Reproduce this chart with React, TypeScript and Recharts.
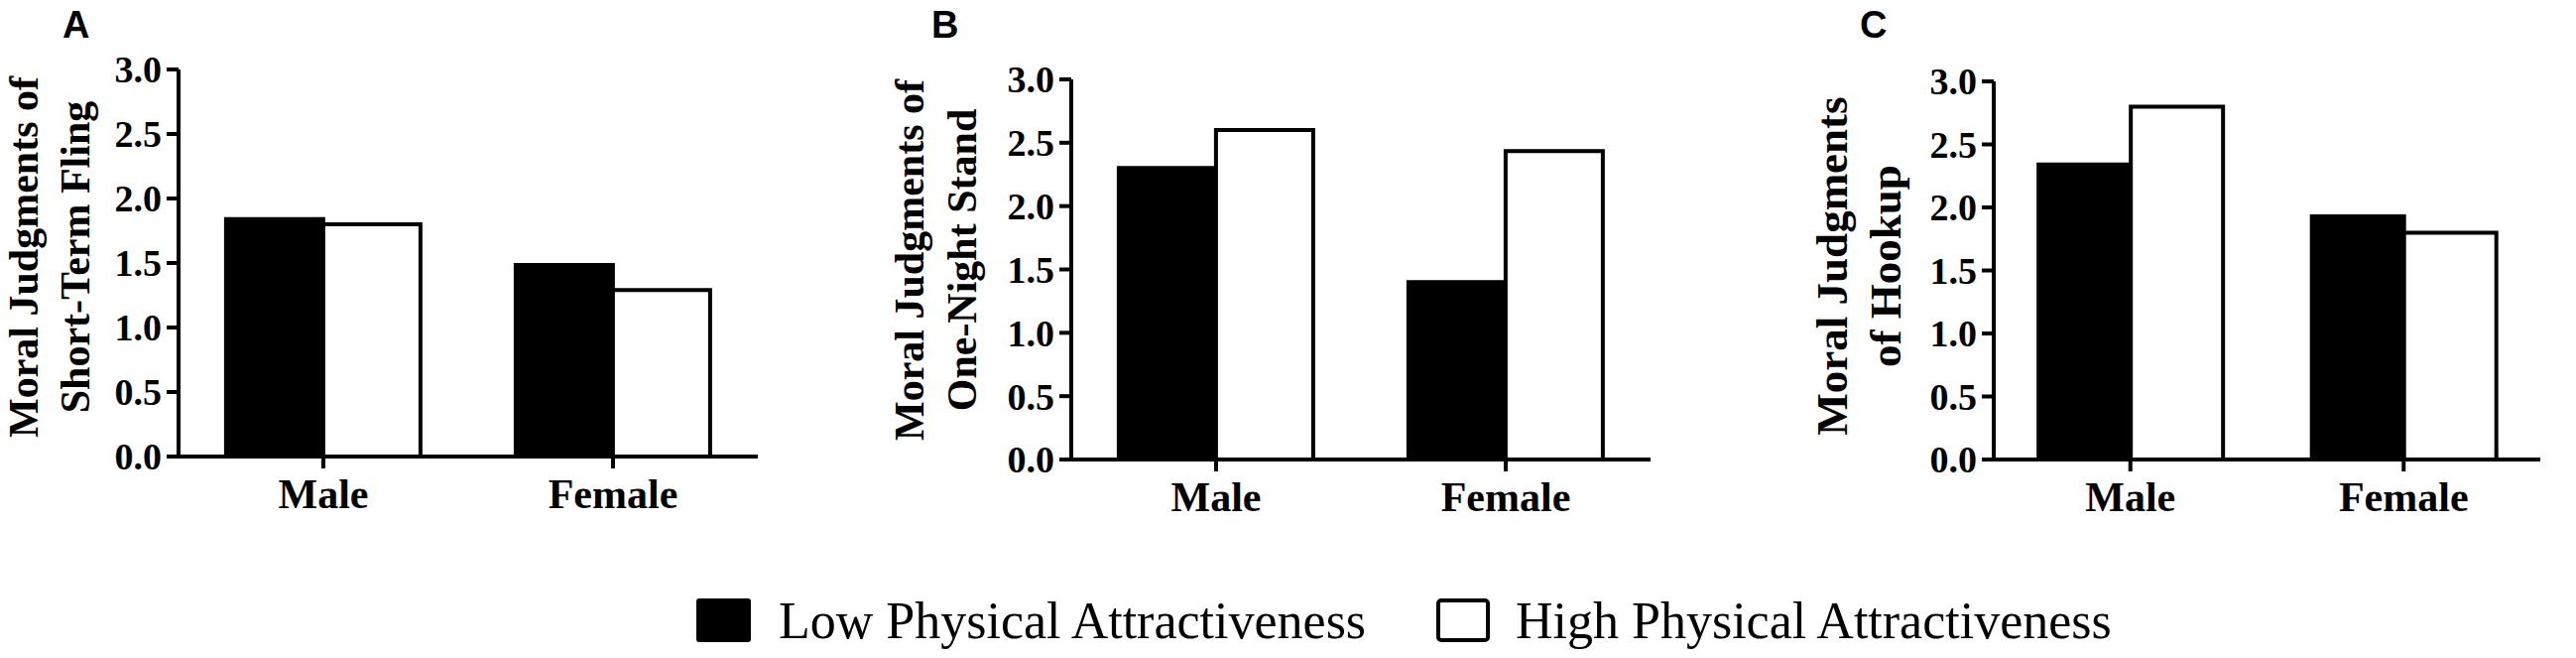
import React from 'react';
import { BarChart, Bar, XAxis, YAxis } from 'recharts';

const categories = ['Male', 'Female'];
const lowFling = [1.84, 1.485];
const highFling = [1.8, 1.29];
const lowOneNight = [2.3, 1.4];
const highOneNight = [2.6, 2.435];
const lowHookup = [2.34, 1.93];
const highHookup = [2.8, 1.8];
const yTicks = [0, 0.5, 1, 1.5, 2, 2.5, 3];
const seriesNames = ['Low Physical Attractiveness', 'High Physical Attractiveness'];
const seriesFills = ['#000000', '#ffffff'];

const build = (low: number[], high: number[]) =>
  categories.map((c, i) => ({ cat: c, low: low[i], high: high[i] }));

type PanelCfg = {
  letter: string;
  titleLines: string[];
  left: number;
  width: number;
  height: number;
  top: number;
  bottom: number;
  yAxisX: number;
  letterX: number;
  titleX: number[];
  titleCy: number;
  titleFont: number;
  data: { cat: string; low: number; high: number }[];
};

const panels: PanelCfg[] = [
  {
    letter: 'A',
    titleLines: ['Moral Judgments of', 'Short-Term Fling'],
    left: 0, width: 800, height: 560, top: 70, bottom: 460, yAxisX: 180,
    letterX: 63, titleX: [38, 90], titleCy: 259, titleFont: 42,
    data: build(lowFling, highFling),
  },
  {
    letter: 'B',
    titleLines: ['Moral Judgments of', 'One-Night Stand'],
    left: 860, width: 840, height: 560, top: 80, bottom: 463, yAxisX: 220,
    letterX: 79, titleX: [71, 124], titleCy: 262, titleFont: 42,
    data: build(lowOneNight, highOneNight),
  },
  {
    letter: 'C',
    titleLines: ['Moral Judgments', 'of Hookup'],
    left: 1780, width: 817, height: 560, top: 82, bottom: 463, yAxisX: 230,
    letterX: 95, titleX: [82, 136], titleCy: 268, titleFont: 45,
    data: build(lowHookup, highHookup),
  },
];

const serif = 'Liberation Serif, Times New Roman, serif';
const sans = 'Liberation Sans, Arial, sans-serif';

function Panel({ cfg }: { cfg: PanelCfg }) {
  const xAxisHeight = 70;
  const renderTitle = () => (
    <g>
      <text x={cfg.letterX} y={38} fontFamily={sans} fontWeight="bold" fontSize={38} fill="#000">
        {cfg.letter}
      </text>
      {cfg.titleLines.map((line, i) => (
        <text
          key={i}
          x={cfg.titleX[i]}
          y={cfg.titleCy}
          transform={`rotate(-90 ${cfg.titleX[i]} ${cfg.titleCy})`}
          textAnchor="middle"
          fontFamily={serif}
          fontWeight="bold"
          fontSize={cfg.titleFont}
          fill="#000"
        >
          {line}
        </text>
      ))}
    </g>
  );
  return (
    <div style={{ position: 'absolute', left: cfg.left, top: 0 }}>
      <BarChart
        width={cfg.width}
        height={cfg.height}
        data={cfg.data}
        margin={{ top: cfg.top, right: 36, left: 0, bottom: cfg.height - cfg.bottom - xAxisHeight }}
        barCategoryGap="16.4%"
        barGap={0}
      >
        <XAxis
          dataKey="cat"
          height={xAxisHeight}
          axisLine={{ stroke: '#000', strokeWidth: 4 }}
          tickLine={{ stroke: '#000', strokeWidth: 4 }}
          tickSize={12}
          tickMargin={10}
          tick={{ fill: '#000', fontSize: 42, fontWeight: 'bold', fontFamily: serif }}
          interval={0}
        />
        <YAxis
          width={cfg.yAxisX}
          domain={[0, 3]}
          ticks={yTicks}
          interval={0}
          tickFormatter={(v: number) => v.toFixed(1)}
          axisLine={{ stroke: '#000', strokeWidth: 4 }}
          tickLine={{ stroke: '#000', strokeWidth: 4 }}
          tickSize={12}
          tickMargin={5}
          tick={{ fill: '#000', fontSize: 38, fontWeight: 'bold', fontFamily: serif }}
          label={renderTitle}
        />
        <Bar dataKey="low" name={seriesNames[0]} fill={seriesFills[0]} stroke="#000" strokeWidth={4} isAnimationActive={false} />
        <Bar dataKey="high" name={seriesNames[1]} fill={seriesFills[1]} stroke="#000" strokeWidth={4} isAnimationActive={false} />
      </BarChart>
    </div>
  );
}

function LegendRow() {
  const items = [
    { x: 702, textX: 785 },
    { x: 1450, textX: 1528 },
  ];
  return (
    <svg style={{ position: 'absolute', left: 0, top: 560 }} width={2597} height={103}>
      {seriesNames.map((name, i) => (
        <g key={name}>
          {i === 0 ? (
            <rect x={items[i].x} y={43} width={55} height={44} rx={3} fill={seriesFills[i]} />
          ) : (
            <rect x={items[i].x} y={45} width={50} height={40} rx={3} fill={seriesFills[i]} stroke="#000" strokeWidth={4} />
          )}
          <text x={items[i].textX} y={83} fontFamily={serif} fontSize={52} fill="#000">
            {name}
          </text>
        </g>
      ))}
    </svg>
  );
}

export default function App() {
  return (
    <div style={{ position: 'absolute', left: 0, top: 0, width: 2597, height: 663, background: '#fff', overflow: 'hidden' }}>
      {panels.map((p) => (
        <Panel key={p.letter} cfg={p} />
      ))}
      <LegendRow />
    </div>
  );
}
